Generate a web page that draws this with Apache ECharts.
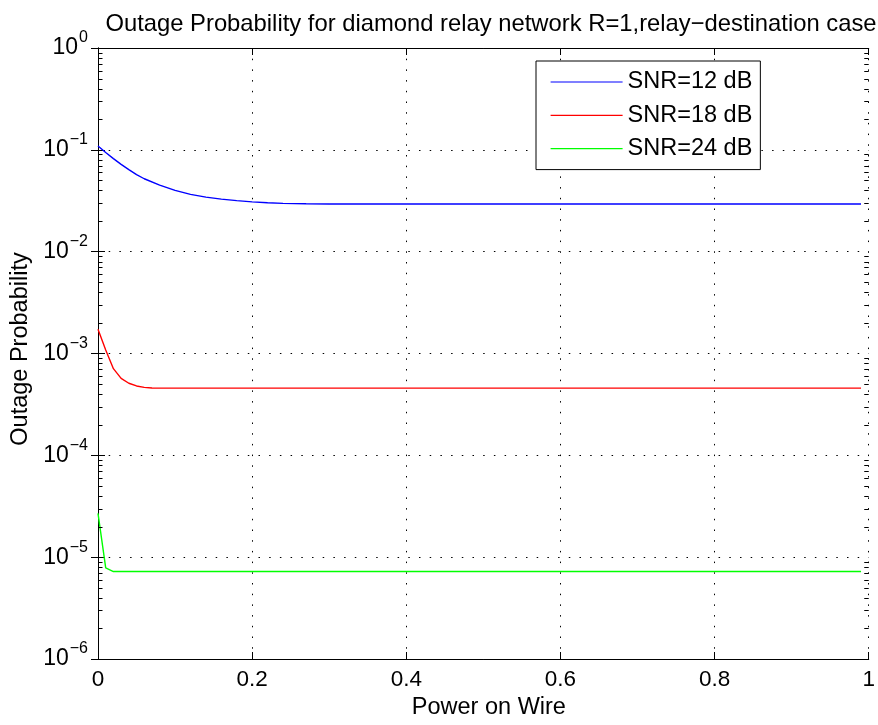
<!DOCTYPE html>
<html>
<head>
<meta charset="utf-8">
<script src="https://cdn.jsdelivr.net/npm/echarts@6/dist/echarts.min.js"></script>
<style>
html,body{margin:0;padding:0;background:#fff;}
#chart{width:878px;height:725px;}
</style>
</head>
<body>
<div id="chart"></div>
<script>
// ---- data ----
const titleText = 'Outage Probability for diamond relay network R=1,relay\u2212destination case';
const xName = 'Power on Wire';
const yName = 'Outage Probability';
const seriesNames = ['SNR=12 dB', 'SNR=18 dB', 'SNR=24 dB'];
const xTickLabels = ['0', '0.2', '0.4', '0.6', '0.8', '1'];
const yTickExponents = ['\u22126', '\u22125', '\u22124', '\u22123', '\u22122', '\u22121', '0'];

const xSnr12 = [0, 0.01, 0.02, 0.03, 0.04, 0.05, 0.06, 0.08, 0.10, 0.12, 0.14, 0.16, 0.18, 0.20, 0.22, 0.24, 0.27, 0.30, 0.99];
const ySnr12 = [0.109, 0.094, 0.082, 0.072, 0.064, 0.057, 0.052, 0.0451, 0.0400, 0.0365, 0.0343, 0.0328, 0.0317, 0.0308, 0.0302, 0.0298, 0.0295, 0.0294, 0.0294];

const xSnr18 = [0, 0.01, 0.02, 0.03, 0.04, 0.05, 0.06, 0.07, 0.99];
const ySnr18 = [0.00173, 0.00108, 0.00071, 0.00057, 0.00051, 0.00048, 0.000465, 0.000458, 0.000457];

const xSnr24 = [0, 0.01, 0.02, 0.99];
const ySnr24 = [2.69e-5, 7.85e-6, 7.23e-6, 7.23e-6];

const minorTickValues = [
  2e-6,3e-6,4e-6,5e-6,6e-6,7e-6,8e-6,9e-6,
  2e-5,3e-5,4e-5,5e-5,6e-5,7e-5,8e-5,9e-5,
  2e-4,3e-4,4e-4,5e-4,6e-4,7e-4,8e-4,9e-4,
  2e-3,3e-3,4e-3,5e-3,6e-3,7e-3,8e-3,9e-3,
  2e-2,3e-2,4e-2,5e-2,6e-2,7e-2,8e-2,9e-2,
  0.2,0.3,0.4,0.5,0.6,0.7,0.8,0.9
];

function pairs(xs, ys) { return xs.map((x, i) => [x, ys[i]]); }

const FONT = '"Liberation Sans", Arial, Helvetica, sans-serif';
const chart = echarts.init(document.getElementById('chart'), null, {renderer: 'canvas'});

const gridDots = {show: true, lineStyle: {color: '#000', width: 1, type: [1.5, 9.2]}};

function expLabel(v) {
  const e = Math.round(Math.log10(v));
  const idx = e + 6;
  const s = yTickExponents[idx] !== undefined ? yTickExponents[idx] : String(e);
  return '{b|10}{s|' + s + '}';
}

const option = {
  animation: false,
  backgroundColor: '#fff',
  title: {
    text: titleText,
    left: 486,
    textAlign: 'center',
    top: 7,
    textStyle: {fontFamily: FONT, fontSize: 23.8, fontWeight: 'normal', color: '#000'}
  },
  legend: {
    data: seriesNames,
    orient: 'vertical',
    left: 536,
    top: 61,
    itemWidth: 72,
    itemHeight: 14,
    itemGap: 9.3,
    padding: [9, 8, 9, 14],
    backgroundColor: '#fff',
    borderColor: '#000',
    borderWidth: 1,
    borderRadius: 0,
    itemStyle: {color: 'rgba(0,0,0,0)', borderColor: 'rgba(0,0,0,0)', borderWidth: 0},
    lineStyle: {width: 1.2},
    textStyle: {fontFamily: FONT, fontSize: 23.5, color: '#000', lineHeight: 24}
  },
  grid: {left: 98, top: 48, right: 5, bottom: 66, containLabel: false},
  xAxis: [{
    type: 'value', min: 0, max: 1, interval: 0.2, position: 'bottom',
    name: xName, nameLocation: 'middle', nameGap: 31,
    nameTextStyle: {fontFamily: FONT, fontSize: 23.5, color: '#000', padding: [0, 0, 0, 11]},
    axisLine: {show: true, lineStyle: {color: '#000', width: 1}},
    axisTick: {show: true, inside: true, length: 7, lineStyle: {color: '#000'}},
    axisLabel: {
      margin: 9, fontFamily: FONT, fontSize: 22.5, color: '#000',
      formatter: function (v) { return xTickLabels[Math.round(v / 0.2)]; }
    },
    splitLine: gridDots
  }, {
    type: 'value', min: 0, max: 1, interval: 0.2, position: 'top',
    axisLine: {show: true, lineStyle: {color: '#000', width: 1}},
    axisTick: {show: true, inside: true, length: 7, lineStyle: {color: '#000'}},
    axisLabel: {show: false},
    splitLine: {show: false}
  }],
  yAxis: [{
    type: 'log', logBase: 10, min: 1e-6, max: 1, position: 'left',
    name: yName, nameLocation: 'middle', nameGap: 64, nameRotate: 90,
    nameTextStyle: {fontFamily: FONT, fontSize: 23.5, color: '#000', padding: [0, 0, 0, 9]},
    axisLine: {show: true, lineStyle: {color: '#000', width: 1}},
    axisTick: {show: true, inside: true, length: 7, lineStyle: {color: '#000'}},
    minorTick: {show: false},
    axisLabel: {
      margin: 10, color: '#000',
      formatter: expLabel,
      rich: {
        b: {fontFamily: FONT, fontSize: 23, color: '#000', lineHeight: 44, verticalAlign: 'middle'},
        s: {fontFamily: FONT, fontSize: 16, color: '#000', lineHeight: 16, verticalAlign: 'top', padding: [4, 0, 0, 1]}
      }
    },
    splitLine: gridDots
  }, {
    type: 'log', logBase: 10, min: 1e-6, max: 1, position: 'right',
    axisLine: {show: true, lineStyle: {color: '#000', width: 1}},
    axisTick: {show: true, inside: true, length: 7, lineStyle: {color: '#000'}},
    axisLabel: {show: false},
    splitLine: {show: false}
  }],
  series: [
    {
      name: seriesNames[0], type: 'line', xAxisIndex: 0, yAxisIndex: 0,
      data: pairs(xSnr12, ySnr12), symbol: 'none', smooth: false,
      lineStyle: {color: '#0000ff', width: 1.4}, itemStyle: {color: '#0000ff'}, z: 5
    },
    {
      name: seriesNames[1], type: 'line', xAxisIndex: 0, yAxisIndex: 0,
      data: pairs(xSnr18, ySnr18), symbol: 'none', smooth: false,
      lineStyle: {color: '#ff0000', width: 1.4}, itemStyle: {color: '#ff0000'}, z: 5
    },
    {
      name: seriesNames[2], type: 'line', xAxisIndex: 0, yAxisIndex: 0,
      data: pairs(xSnr24, ySnr24), symbol: 'none', smooth: false,
      lineStyle: {color: '#00ff00', width: 1.4}, itemStyle: {color: '#00ff00'}, z: 5
    },
    {
      name: 'minorTicks', type: 'custom', xAxisIndex: 0, yAxisIndex: 0,
      data: minorTickValues.map(v => [0, v]),
      encode: {x: 0, y: 1},
      silent: true, clip: false, z: 6,
      renderItem: function (params, api) {
        const p = api.coord([0, api.value(1)]);
        const cs = params.coordSys;
        const y = Math.round(p[1]) + 0.5;
        const L = 4.5;
        return {
          type: 'group',
          children: [
            {type: 'line', shape: {x1: cs.x, y1: y, x2: cs.x + L, y2: y}, style: {stroke: '#000', lineWidth: 1}},
            {type: 'line', shape: {x1: cs.x + cs.width - L, y1: y, x2: cs.x + cs.width, y2: y}, style: {stroke: '#000', lineWidth: 1}}
          ]
        };
      }
    }
  ]
};
chart.setOption(option);
</script>
</body>
</html>
